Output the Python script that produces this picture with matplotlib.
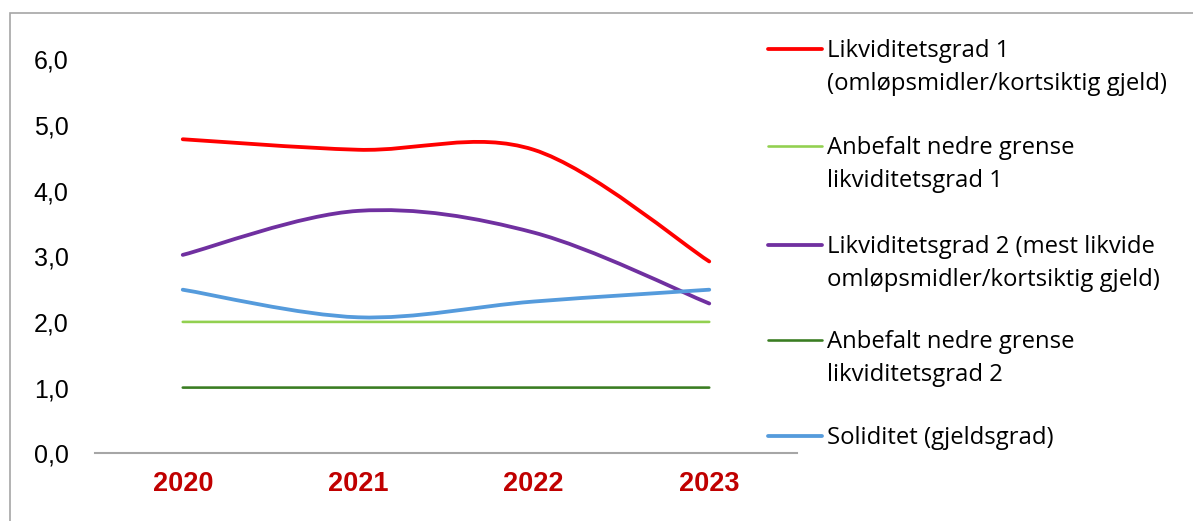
import matplotlib
matplotlib.use("Agg")
import matplotlib.pyplot as plt
from matplotlib.path import Path
from matplotlib.patches import PathPatch, Rectangle
from matplotlib.lines import Line2D

years = ["2020", "2021", "2022", "2023"]
likv1 = [4.78, 4.62, 4.62, 2.92]
grense1 = [2.0, 2.0, 2.0, 2.0]
likv2 = [3.02, 3.69, 3.36, 2.28]
grense2 = [1.0, 1.0, 1.0, 1.0]
soliditet = [2.49, 2.07, 2.31, 2.49]
labels = ["Likviditetsgrad 1\n(omløpsmidler/kortsiktig gjeld)",
          "Anbefalt nedre grense\nlikviditetsgrad 1",
          "Likviditetsgrad 2 (mest likvide\nomløpsmidler/kortsiktig gjeld)",
          "Anbefalt nedre grense\nlikviditetsgrad 2",
          "Soliditet (gjeldsgrad)"]
yticks = [0, 1, 2, 3, 4, 5, 6]

W, H = 1193, 521
fig = plt.figure(figsize=(W / 100, H / 100), dpi=100)
fig.patch.set_facecolor("white")

# chart border
fig.add_artist(Rectangle((10 / W, -0.05), 1.2, (H - 13) / H + 0.05, transform=fig.transFigure,
                         fill=False, edgecolor="#A6A6A6", linewidth=1.2))

ax = fig.add_axes([95 / W, (H - 453.3) / H, (797 - 95) / W, (453.3 - 59.1) / H])
ax.set_xlim(-0.5, 3.5)
ax.set_ylim(0, 6)
for s in ["top", "right", "left"]:
    ax.spines[s].set_visible(False)
ax.spines["bottom"].set_color("#A6A6A6")
ax.spines["bottom"].set_linewidth(1.5)

def smooth_path(xs, ys):
    pts = list(zip(xs, ys))
    n = len(pts)
    verts = [pts[0]]
    codes = [Path.MOVETO]
    for i in range(n - 1):
        p0 = pts[i - 1] if i > 0 else pts[i]
        p1 = pts[i]
        p2 = pts[i + 1]
        p3 = pts[i + 2] if i + 2 < n else pts[i + 1]
        c1 = (p1[0] + (p2[0] - p0[0]) / 6, p1[1] + (p2[1] - p0[1]) / 6)
        c2 = (p2[0] - (p3[0] - p1[0]) / 6, p2[1] - (p3[1] - p1[1]) / 6)
        verts += [c1, c2, p2]
        codes += [Path.CURVE4] * 3
    return Path(verts, codes)

xs = list(range(len(years)))
series = [
    (likv1, "#FF0000", 3.8),
    (grense1, "#92D050", 2.6),
    (likv2, "#7030A0", 3.8),
    (grense2, "#3A7D22", 2.6),
    (soliditet, "#559BDC", 3.8),
]
for vals, col, lw in series:
    patch = PathPatch(smooth_path(xs, vals), facecolor="none", edgecolor=col,
                      linewidth=lw * 0.72, capstyle="round", joinstyle="round")
    ax.add_patch(patch)

ax.set_xticks(xs)
ax.set_xticklabels(years, fontsize=19.5, fontweight="bold", color="#C00000",
                   fontfamily="Liberation Sans")
ax.set_yticks(yticks)
ax.set_yticklabels([f"{v:.1f}".replace(".", ",") for v in yticks], fontsize=18,
                   fontfamily="Liberation Sans", color="#000000")
ax.tick_params(axis="x", length=0, pad=13)
ax.tick_params(axis="y", length=0, pad=19)

# legend
leg_y = [49, 146, 245, 340, 436]
for (vals, col, lw), ly, lab in zip(series, leg_y, labels):
    yf = (H - ly) / H
    fig.add_artist(Line2D([768 / W, 822 / W], [yf, yf], transform=fig.transFigure,
                          color=col, linewidth=lw * 0.72, solid_capstyle="round"))
    for k, line in enumerate(lab.split("\n")):
        fig.text(827 / W, (H - (ly + 8 + 33 * k)) / H, line, fontsize=17.2,
                 fontfamily="Open Sans", va="baseline", ha="left", color="#000000")

fig.savefig("out.png", dpi=100, facecolor="white")
